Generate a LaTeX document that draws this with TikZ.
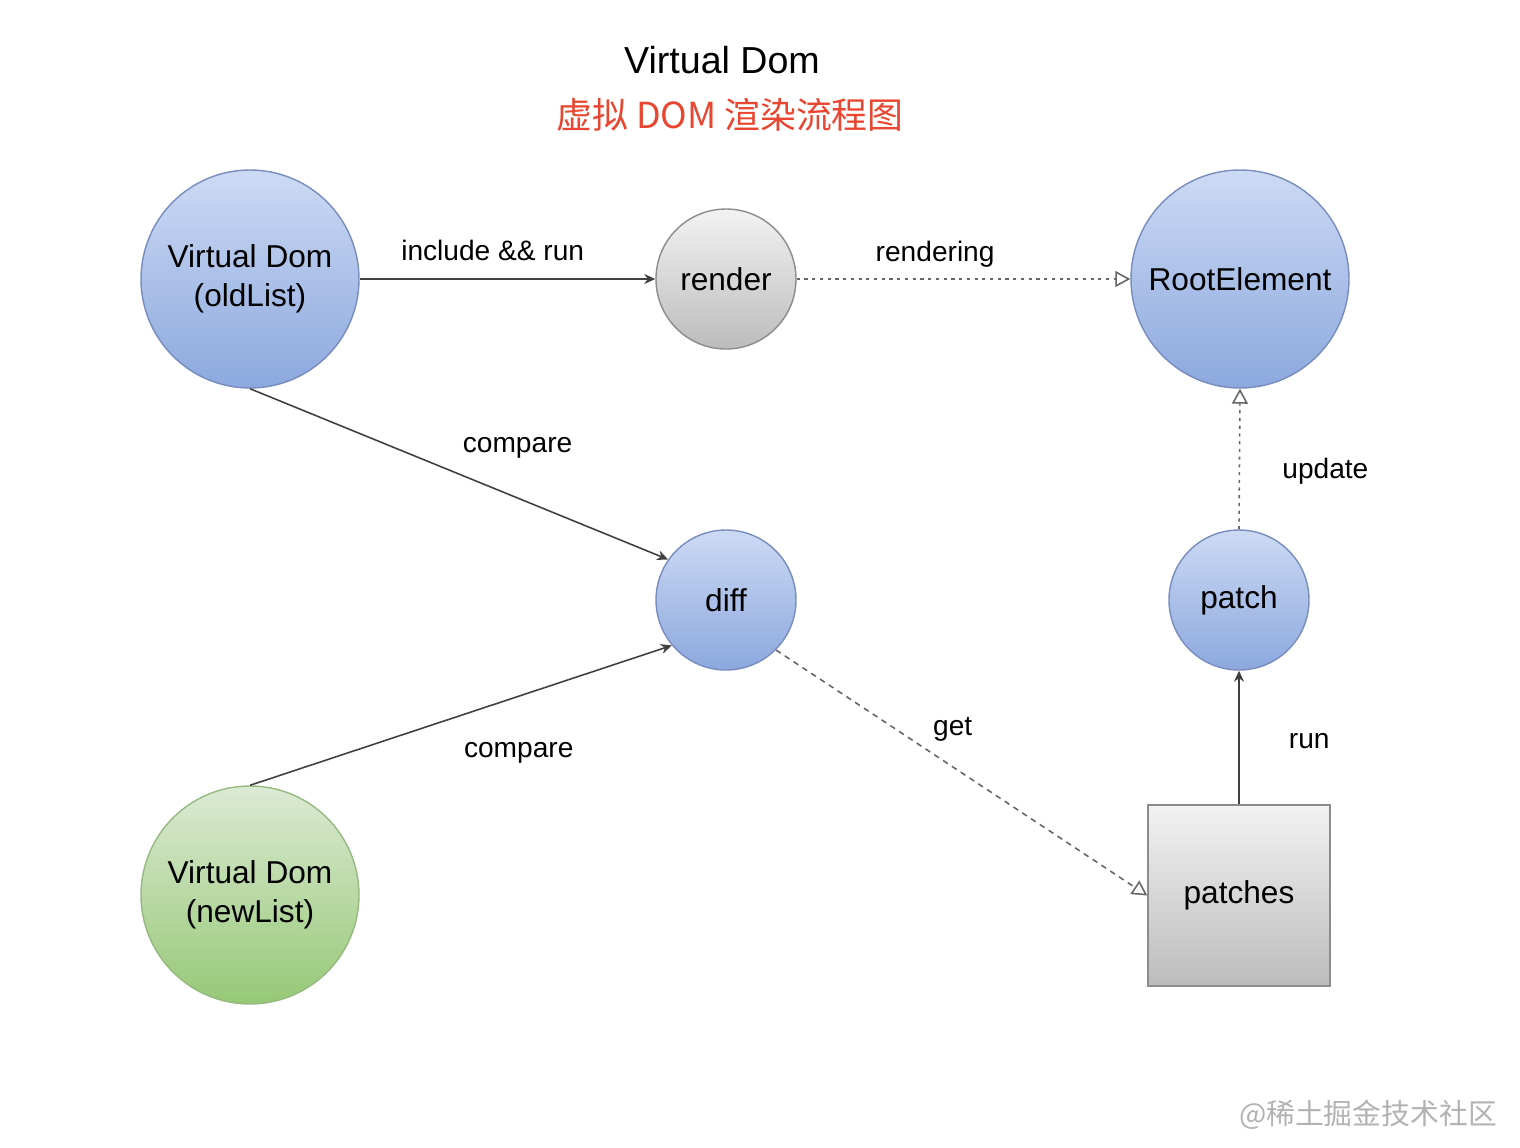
\documentclass[tikz,border=0pt]{standalone}
\usepackage{fontspec}
\setmainfont{Liberation Sans}
\newfontfamily\cjk{Noto Sans CJK SC}
\usetikzlibrary{arrows.meta}
\definecolor{bluetop}{RGB}{204,218,244}
\definecolor{bluebot}{RGB}{140,168,222}
\definecolor{blueline}{RGB}{120,140,190}
\definecolor{graytop}{RGB}{242,242,242}
\definecolor{graybot}{RGB}{188,188,188}
\definecolor{grayline}{RGB}{140,140,140}
\definecolor{greentop}{RGB}{220,234,212}
\definecolor{greenbot}{RGB}{150,200,118}
\definecolor{greenline}{RGB}{150,185,130}
\definecolor{titlered}{RGB}{232,70,48}
\tikzset{
  disc/.style={circle, draw, line width=0.4pt, inner sep=0pt, align=center, font=\fontsize{9}{11}\selectfont},
  bigdisc/.style={disc, minimum size=2.18cm}, smalldisc/.style={disc, minimum size=1.40cm},
  kblue/.style={top color=bluetop, bottom color=bluebot, draw=blueline},
  kgray/.style={top color=graytop, bottom color=graybot, draw=grayline},
  kgreen/.style={top color=greentop, bottom color=greenbot, draw=greenline},
  kbox/.style={rectangle, draw=grayline, line width=0.4pt, top color=graytop, bottom color=graybot,
    minimum width=1.82cm, minimum height=1.81cm, font=\fontsize{9}{11}\selectfont},
  lbl/.style={font=\fontsize{8}{9.5}\selectfont, inner sep=1pt, text=black},
  flow/.style={-{Stealth[length=1.1mm, width=1mm]}, line width=0.45pt, black!75},
  push/.style={-{Triangle[open, length=1.5mm, width=1.6mm]}, line width=0.45pt, black!60,
    dash pattern=on 0.9pt off 1.3pt},
  pull/.style={push, dash pattern=on 1.6pt off 1.4pt},
}
\begin{document}
\begin{tikzpicture}
    \useasboundingbox (0,0) rectangle (15.2,-11.48);
    \node[font=\fontsize{10.7}{12}\selectfont] (title) at (7.22,-0.60) {Virtual Dom};
    \node[font=\cjk\fontsize{10.2}{12}\selectfont, text=titlered] (subtitle) at (7.30,-1.15) {虚拟 DOM 渲染流程图};
    \node[bigdisc, kblue] (oldlist) at (2.50,-2.79) {Virtual Dom\\(oldList)};
    \node[smalldisc, kgray] (render) at (7.26,-2.79) {render};
    \node[bigdisc, kblue] (root) at (12.40,-2.79) {RootElement};
    \node[smalldisc, kblue] (diff) at (7.26,-6.00) {diff};
    \node[smalldisc, kblue] (patch) at (12.39,-6.00) {patch};
    \node[bigdisc, kgreen] (newlist) at (2.50,-8.95) {Virtual Dom\\(newList)};
    \node[kbox] (patches) at (12.39,-8.955) {patches};
    \node[font=\cjk\fontsize{8.2}{10}\selectfont, text=black!30] (mark) at (13.68,-11.15) {@稀土掘金技术社区};
    \draw[flow] (oldlist) -- (render) node[lbl, pos=0.45, above=4pt] (l1) {include \&\& run};
    \draw[push] (render) -- (root) node[lbl, pos=0.415, above=2pt] (l2) {rendering};
    \draw[flow] (oldlist.south) -- (diff.145) node[lbl, pos=0.64, above=10pt] (l3) {compare};
    \draw[flow] (newlist.north) -- (diff.220) node[lbl, pos=0.637, below=12pt] (l4) {compare};
    \draw[pull] (diff.315) -- (patches.west) node[lbl, pos=0.476, above=6pt] (l5) {get};
    \draw[flow] (patches.north) -- (patch.south) node[lbl, pos=0.47, right=13pt] (l6) {run};
    \draw[push] (patch.north) -- (root.south) node[lbl, pos=0.41, right=11pt] (l7) {update};
  \end{tikzpicture}
\end{document}
